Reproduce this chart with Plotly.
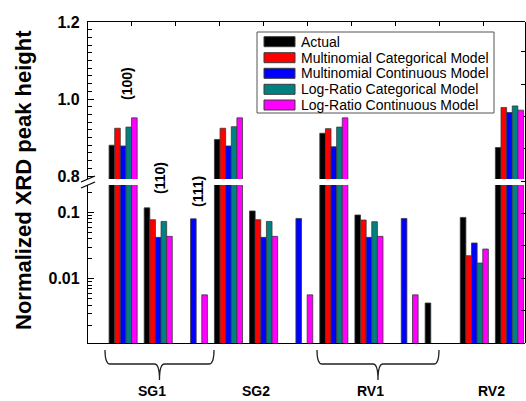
import plotly.graph_objects as go

# Peak slots along the x axis (sample + reflection)
slots = ["SG1 (100)", "SG1 (110)", "SG1 (111)",
         "SG2 (100)", "SG2 (110)", "SG2 (111)",
         "RV1 (100)", "RV1 (110)", "RV1 (111)",
         "RV2 (111)", "RV2 (110)", "RV2 (100)"]
samples = ["SG1", "SG2", "RV1", "RV2"]
peaks = ["(100)", "(110)", "(111)"]

series_names = ["Actual",
                "Multinomial Categorical Model",
                "Multinomial Continuous Model",
                "Log-Ratio Categorical Model",
                "Log-Ratio Continuous Model"]

actual = [0.880, 0.117, None, 0.895, 0.105, None, 0.911, 0.0914, None, 0.0043, 0.084, 0.874]
mult_cat = [0.924, 0.0776, None, 0.924, 0.0776, None, 0.923, 0.0767, None, None, 0.0222, 0.978]
mult_cont = [0.878, 0.042, 0.080, 0.878, 0.042, 0.081, 0.876, 0.042, 0.081, None, 0.0345, 0.965]
lr_cat = [0.927, 0.0731, None, 0.928, 0.073, None, 0.927, 0.0724, None, None, 0.0172, 0.982]
lr_cont = [0.951, 0.0435, 0.0057, 0.951, 0.0435, 0.0057, 0.951, 0.0435, 0.0057, None, 0.028, 0.971]

series_values = [actual, mult_cat, mult_cont, lr_cat, lr_cont]
colors = ["#000000", "#FF0000", "#0000FF", "#008080", "#FF00FF"]

# layout geometry (figure pixels)
W, H = 526, 401
L, R, T, B = 88, 1, 22, 58
PW, PH = W - L - R, H - T - B


def px(x):
    return (x - L) / PW


def py(y):
    return (T + PH - y) / PH


STEP = 0.8
xpos = [STEP * (i + 1) for i in range(len(slots))]

fig = go.Figure()
for name, vals, col in zip(series_names, series_values, colors):
    for xa, ya in (("x", "y"), ("x2", "y2")):
        fig.add_trace(go.Bar(
            x=xpos, y=vals, name=name, marker_color=col,
            marker_line=dict(color="#3a3a3a", width=0.8),
            xaxis=xa, yaxis=ya, showlegend=False,
            customdata=slots, hovertemplate="%{customdata}: %{y}<extra>" + name + "</extra>",
        ))

# empty trace carrying the full-height right frame axis
fig.add_trace(go.Scatter(x=[None], y=[None], xaxis="x", yaxis="y3",
                         showlegend=False, hoverinfo="skip"))

top_bottom_px = 179
low_top_px = 185
xr = [0, PW / 43.9]

tickfont = dict(family="Liberation Sans", size=16, color="black", weight="bold")

minor_log = [v * m for v in (0.001, 0.01, 0.1) for m in range(2, 10)]

fig.update_layout(
    width=W, height=H,
    margin=dict(l=L, r=R, t=T, b=B),
    paper_bgcolor="white", plot_bgcolor="rgba(0,0,0,0)",
    barmode="group", bargap=0.2, bargroupgap=0,
    showlegend=False,
    xaxis=dict(range=xr, domain=[0, 1], anchor="y", showline=True, linecolor="black",
               linewidth=1.3, ticks="", showticklabels=False, showgrid=False, zeroline=False),
    xaxis2=dict(range=xr, domain=[0, 1], anchor="y2", matches="x", side="top",
                showline=True, linecolor="black", linewidth=1.3,
                tickmode="array", tickvals=list(range(1, 10)), ticks="inside",
                ticklen=4, tickcolor="black", showticklabels=False, showgrid=False,
                zeroline=False),
    yaxis=dict(type="log", domain=[0, py(low_top_px)], anchor="x",
               range=[-2.97, -2.97 + (T + PH - low_top_px) / 66.3],
               showline=True, linecolor="black", linewidth=1.3,
               tickmode="array", tickvals=[0.01, 0.1], ticktext=["0.01", "0.1"],
               ticks="inside", ticklen=6, tickcolor="black", ticklabelstandoff=4,
               tickfont=tickfont, showgrid=False, zeroline=False,
               minor=dict(tickvals=minor_log, ticks="inside", ticklen=4,
                          tickcolor="black", showgrid=False)),
    yaxis2=dict(domain=[py(top_bottom_px), 1], anchor="x2",
                range=[0.8 - 3 / 385, 1.2],
                showline=True, linecolor="black", linewidth=1.3,
                tickmode="array", tickvals=[0.8, 1.0, 1.2], ticktext=["0.8", "1.0", "1.2"],
                ticks="inside", ticklen=6, tickcolor="black", ticklabelstandoff=4,
                tickfont=tickfont, showgrid=False, zeroline=False,
                minor=dict(dtick=0.02, ticks="inside", ticklen=4,
                           tickcolor="black", showgrid=False)),
    yaxis3=dict(domain=[0, 1], anchor="x", side="right", range=[0, PH / 32.37],
                showline=True, linecolor="black", linewidth=1.3,
                dtick=1, ticks="inside", ticklen=4, tickcolor="black",
                showticklabels=False, showgrid=False, zeroline=False),
)

shapes = []
annotations = []

# axis break marks on the left axis
for yb in (top_bottom_px, low_top_px):
    shapes.append(dict(type="line", xref="paper", yref="paper",
                       x0=px(81), y0=py(yb + 3), x1=px(95), y1=py(yb - 3),
                       line=dict(color="black", width=1.3)))

# curly braces grouping the reflections of a sample
def brace(x0, x1, ytop=350, ymid=364, ybot=380, r=5):
    xm = (x0 + x1) / 2
    pts = [
        ("M", [(x0, ytop)]),
        ("Q", [(x0, ymid), (x0 + r, ymid)]),
        ("L", [(xm - r, ymid)]),
        ("Q", [(xm, ymid), (xm, ybot)]),
        ("Q", [(xm, ymid), (xm + r, ymid)]),
        ("L", [(x1 - r, ymid)]),
        ("Q", [(x1, ymid), (x1, ytop)]),
    ]
    path = " ".join(cmd + " " + " ".join(f"{px(a):.5f},{py(b):.5f}" for a, b in p)
                    for cmd, p in pts)
    return dict(type="path", xref="paper", yref="paper", path=path,
                line=dict(color="#222222", width=1.3))


shapes.append(brace(105, 214))
shapes.append(brace(317, 439))

# sample labels under the axis
label_x = [152, 256, 370, 491]
for s, lx in zip(samples, label_x):
    annotations.append(dict(text=s, xref="paper", yref="paper", x=px(lx), y=py(391),
                            xanchor="center", yanchor="middle", showarrow=False,
                            font=dict(family="Liberation Sans", size=14, color="black",
                                      weight="bold")))

# reflection labels, rotated
peak_pos = [(127, 84), (160, 178), (198, 192)]
for p, (lx, ly) in zip(peaks, peak_pos):
    annotations.append(dict(text=p, xref="paper", yref="paper", x=px(lx), y=py(ly),
                            xanchor="center", yanchor="middle", showarrow=False,
                            textangle=-90,
                            font=dict(family="Liberation Sans", size=14, color="black",
                                      weight="bold")))

# y axis title spanning both panels
annotations.append(dict(text="Normalized XRD peak height", xref="paper", yref="paper",
                        x=px(23), y=py(180), xanchor="center", yanchor="middle",
                        showarrow=False, textangle=-90,
                        font=dict(family="Liberation Sans", size=22, color="black",
                                  weight="bold")))

# legend box
shapes.append(dict(type="rect", xref="paper", yref="paper",
                   x0=px(257), y0=py(113), x1=px(494), y1=py(32),
                   line=dict(color="#555555", width=1), fillcolor="white"))
row_y = [41.7, 57.7, 73.3, 89.3, 105]
for name, col, ry in zip(series_names, colors, row_y):
    shapes.append(dict(type="rect", xref="paper", yref="paper",
                       x0=px(264), y0=py(ry + 5), x1=px(295), y1=py(ry - 5),
                       line=dict(color="#3a3a3a", width=1), fillcolor=col))
    annotations.append(dict(text=name, xref="paper", yref="paper", x=px(299), y=py(ry),
                            xanchor="left", yanchor="middle", showarrow=False,
                            font=dict(family="Liberation Sans", size=14, color="black")))

fig.update_layout(shapes=shapes, annotations=annotations)

fig.write_html("out.html")
